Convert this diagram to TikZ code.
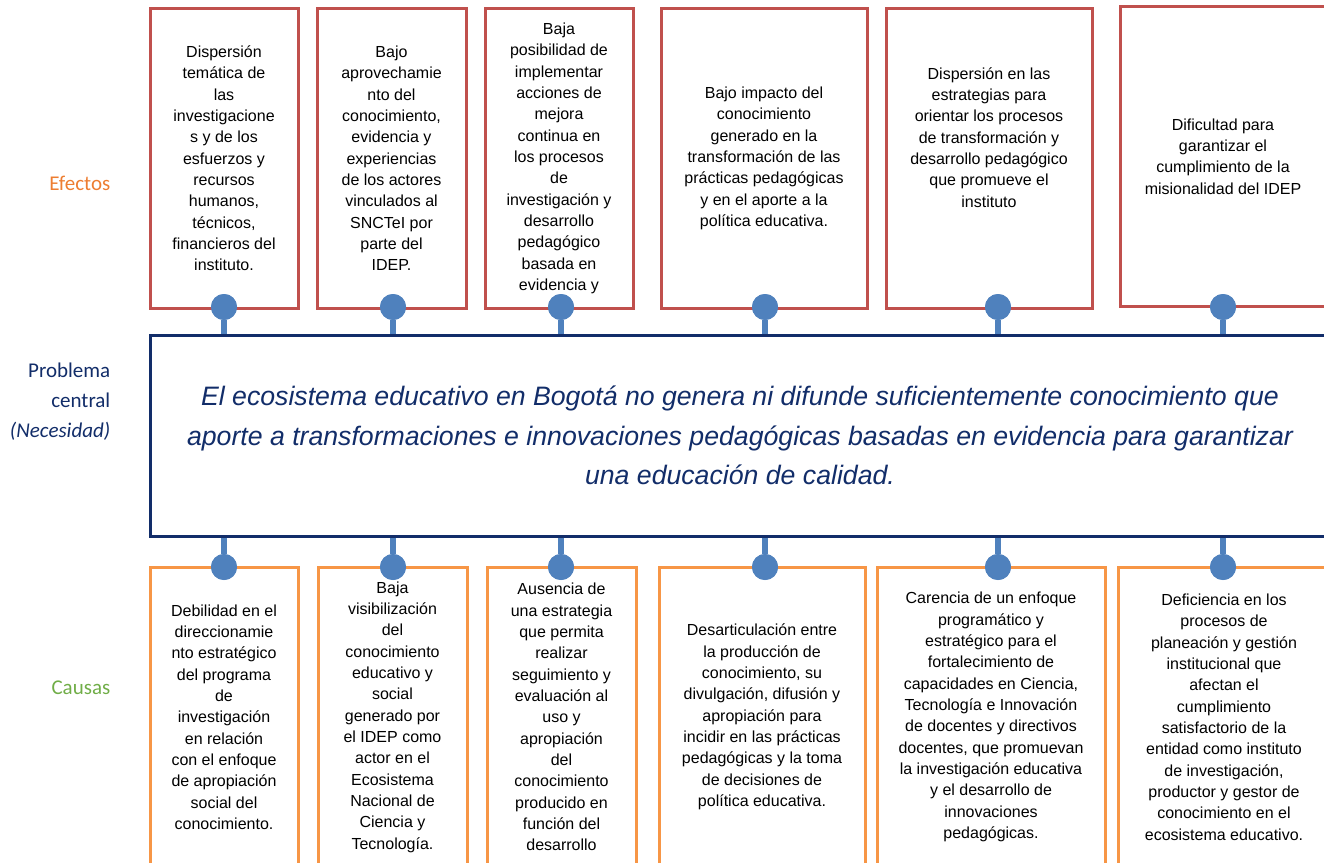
\documentclass[tikz,border=0pt]{standalone}
\usepackage{fontspec}
\setmainfont{Liberation Sans}
\newfontfamily\calibri{Carlito}
\usetikzlibrary{calc}
\definecolor{efred}{RGB}{192,80,77}
\definecolor{caorange}{RGB}{247,150,70}
\definecolor{dotblue}{RGB}{79,129,189}
\definecolor{probnavy}{RGB}{18,45,105}
\definecolor{lblorange}{RGB}{237,125,49}
\definecolor{lblgreen}{RGB}{112,173,71}

\begin{document}
\begin{tikzpicture}[x=0.75pt,y=-0.75pt,
		boxtext/.style={align=center, inner sep=0pt, line width=2.25pt, font=\fontsize{12}{16}\selectfont},
		efecto/.style={boxtext, draw=efred, minimum height=224.25pt},
		causa/.style={boxtext, draw=caorange, minimum height=225pt},
		dot/.style={circle, fill=dotblue, minimum size=19.5pt, inner sep=0pt},
		stem/.style={draw=dotblue, line width=4.5pt},
		lbl/.style={anchor=east, align=right, font=\calibri\fontsize{15.75}{22.5}\selectfont}]
	%%%%% START %%%%%
	\useasboundingbox (0,0) rectangle (1324,863);
	\clip (0,0) rectangle (1324,863);
	
	% labels
	\node[lbl, text=lblorange] (lefectos) at (115,183) {Efectos};
	\node[lbl, text=probnavy] (lproblema) at (115,402) {Problema\\central\\\textit{(Necesidad)}};
	\node[lbl, text=lblgreen] (lcausas) at (115,688) {Causas};
	
	% efectos
	\node[efecto, minimum width=111pt] (e1) at (224,158.5) {Dispersión\\temática de\\las\\investigacione\\s y de los\\esfuerzos y\\recursos\\humanos,\\técnicos,\\financieros del\\instituto.};
	\node[efecto, minimum width=111.75pt] (e2) at (391.5,158.5) {Bajo\\aprovechamie\\nto del\\conocimiento,\\evidencia y\\experiencias\\de los actores\\vinculados al\\SNCTeI por\\parte del\\IDEP.};
	\node[efecto, minimum width=111pt] (e3) at (559,158.5) {Baja\\posibilidad de\\implementar\\acciones de\\mejora\\continua en\\los procesos\\de\\investigación y\\desarrollo\\pedagógico\\basada en\\evidencia y};
	\node[efecto, minimum width=154.5pt] (e4) at (764,158.5) {Bajo impacto del\\conocimiento\\generado en la\\transformación de las\\prácticas pedagógicas\\y en el aporte a la\\política educativa.};
	\node[efecto, minimum width=154.5pt] (e5) at (989,158.5) {Dispersión en las\\estrategias para\\orientar los procesos\\de transformación y\\desarrollo pedagógico\\que promueve el\\instituto\\~\\~};
	\node[efecto, minimum width=154.5pt] (e6) at (1223,156.5) {Dificultad para\\garantizar el\\cumplimiento de la\\misionalidad del IDEP};
	
	% problema central
	\node[draw=probnavy, line width=2.25pt, fill=white, minimum width=885pt, minimum height=150.75pt, align=center, text=probnavy, font=\fontsize{20}{29.6}\selectfont\itshape] (prob) at (740,435.5) {El ecosistema educativo en Bogotá no genera ni difunde suficientemente conocimiento que\\aporte a transformaciones e innovaciones pedagógicas basadas en evidencia para garantizar\\una educación de calidad.};
	
	% causas
	\node[causa, minimum width=111pt] (c1) at (224,717) {Debilidad en el\\direccionamie\\nto estratégico\\del programa\\de\\investigación\\en relación\\con el enfoque\\de apropiación\\social del\\conocimiento.};
	\node[causa, minimum width=111.75pt] (c2) at (392.5,717) {Baja\\visibilización\\del\\conocimiento\\educativo y\\social\\generado por\\el IDEP como\\actor en el\\Ecosistema\\Nacional de\\Ciencia y\\Tecnología.};
	\node[causa, minimum width=111.75pt] (c3) at (561.5,717) {Ausencia de\\una estrategia\\que permita\\realizar\\seguimiento y\\evaluación al\\uso y\\apropiación\\del\\conocimiento\\producido en\\función del\\desarrollo};
	\node[causa, minimum width=154.5pt] (c4) at (762,717) {Desarticulación entre\\la producción de\\conocimiento, su\\divulgación, difusión y\\apropiación para\\incidir en las prácticas\\pedagógicas y la toma\\de decisiones de\\política educativa.};
	\node[causa, minimum width=171pt] (c5) at (991,717) {Carencia de un enfoque\\programático y\\estratégico para el\\fortalecimiento de\\capacidades en Ciencia,\\Tecnología e Innovación\\de docentes y directivos\\docentes, que promuevan\\la investigación educativa\\y el desarrollo de\\innovaciones\\pedagógicas.};
	\node[causa, minimum width=159pt] (c6) at (1224,717) {Deficiencia en los\\procesos de\\planeación y gestión\\institucional que\\afectan el\\cumplimiento\\satisfactorio de la\\entidad como instituto\\de investigación,\\productor y gestor de\\conocimiento en el\\ecosistema educativo.};
	
	% conectores
	\foreach \n/\x in {1/224,2/393,3/561,4/765,5/998,6/1223}{
		\node[dot] (ed\n) at (\x,307) {};
		\node[dot] (cd\n) at (\x,567) {};
		\draw[stem] (ed\n) -- (ed\n |- prob.north);
		\draw[stem] (cd\n |- prob.south) -- (cd\n);
		\node[dot] at (ed\n) {};
		\node[dot] at (cd\n) {};
	}
	
	%%%%% END %%%%%
\end{tikzpicture}
\end{document}
